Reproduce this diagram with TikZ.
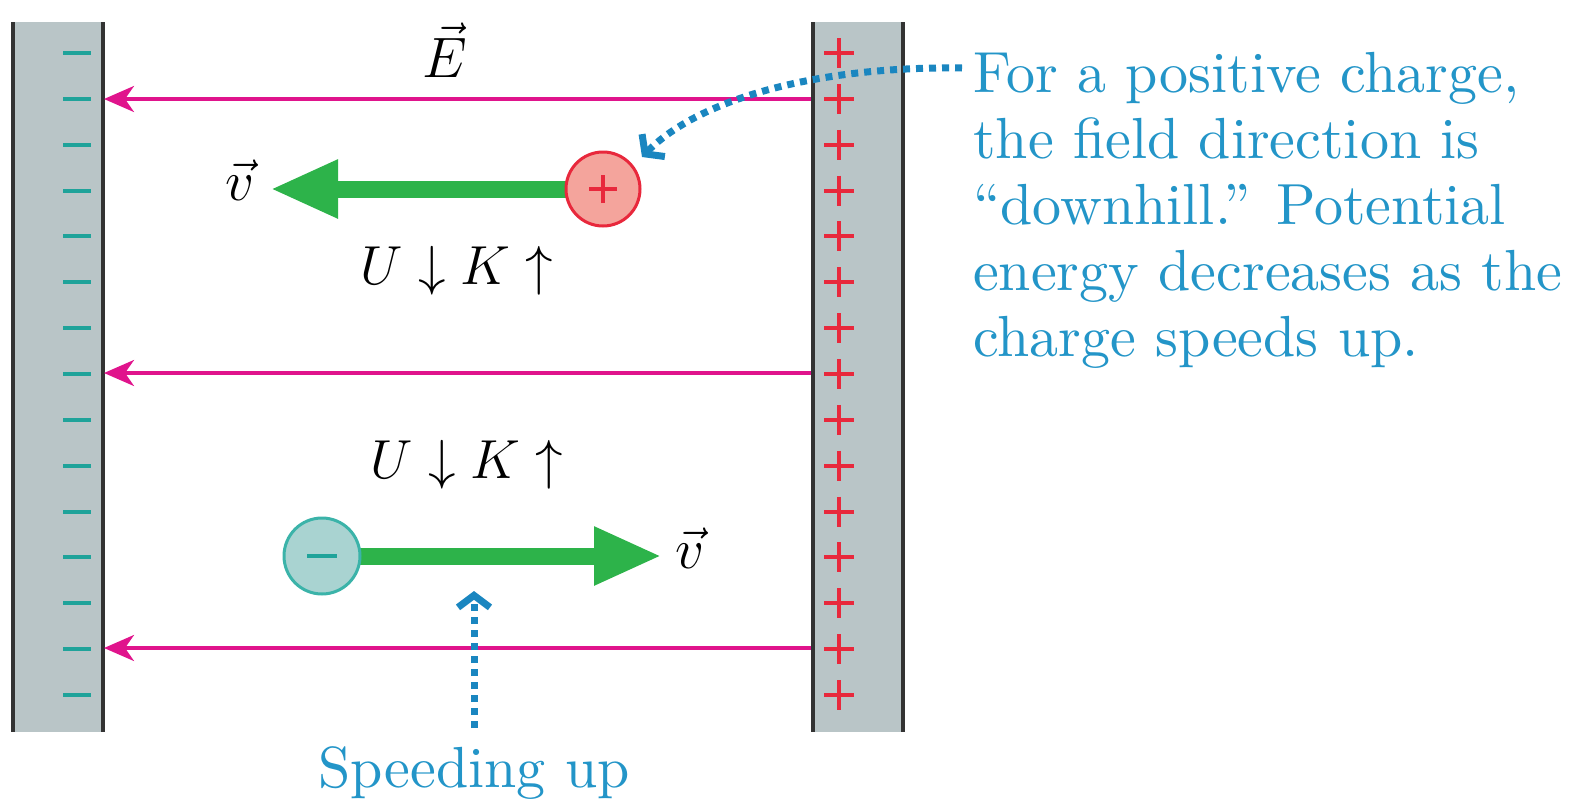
\RequirePackage{fix-cm}
\documentclass[tikz,border=0pt]{standalone}
\usepackage{fontspec}
\setmainfont{lmroman10-regular.otf}[ItalicFont=lmroman10-italic.otf,BoldFont=lmroman10-bold.otf,BoldItalicFont=lmroman10-bolditalic.otf]
\usetikzlibrary{arrows.meta}
\definecolor{plategray}{HTML}{B9C5C7}
\definecolor{plateedge}{HTML}{333333}
\definecolor{minusteal}{HTML}{1FA39A}
\definecolor{plusred}{HTML}{E8283C}
\definecolor{fieldmag}{HTML}{E0148C}
\definecolor{vgreen}{HTML}{2DB34A}
\definecolor{posfill}{HTML}{F4A49C}
\definecolor{negfill}{HTML}{A9D3D1}
\definecolor{negedge}{HTML}{3BB3A9}
\definecolor{dotblue}{HTML}{1A86C0}
\definecolor{textblue}{HTML}{2395C8}
\begin{document}
\begin{tikzpicture}[x=1pt,y=-1pt,
  every node/.style={font=\fontsize{57}{66}\selectfont, inner sep=0pt},
  mathlabel/.style={font=\fontsize{55}{66}\selectfont},
  edge/.style={draw=plateedge, line width=4pt},
  minussign/.style={draw=minusteal, line width=4pt},
  plussign/.style={draw=plusred, line width=4pt},
  fieldline/.style={draw=fieldmag, line width=3.5pt, -{Stealth[length=30pt,width=26pt,inset=9pt]}},
  velarrow/.style={draw=vgreen, line width=17pt, -{Triangle[length=68pt,width=54pt]}},
  poscharge/.style={circle, minimum size=74pt, fill=posfill, draw=plusred, line width=3pt},
  negcharge/.style={circle, minimum size=76pt, fill=negfill, draw=negedge, line width=3pt},
  bluedots/.style={draw=dotblue, line width=7pt, dash pattern=on 7pt off 6pt, -{Straight Barb[length=12pt,width=32pt]}},
  bluetext/.style={text=textblue, align=left, font=\fontsize{58}{66}\selectfont}
]
\useasboundingbox (0,0) rectangle (1574,806);
% plates
\fill[plategray] (13,22) rectangle (103,732);
\fill[plategray] (813,22) rectangle (903,732);
\draw[edge] (13,22) -- (13,732) (103,22) -- (103,732);
\draw[edge] (813,22) -- (813,732) (903,22) -- (903,732);
% charges on plates
\foreach \k in {0,...,14} {
  \pgfmathsetmacro\yy{53+45.86*\k}
  \draw[minussign] (63,\yy) -- (91,\yy);
  \draw[plussign] (824,\yy) -- (854,\yy) (839,\yy-15) -- (839,\yy+15);
}
% field lines
\coordinate (r1) at (811,99);  \coordinate (l1) at (104,99);
\coordinate (r2) at (811,373); \coordinate (l2) at (104,373);
\coordinate (r3) at (811,648); \coordinate (l3) at (104,648);
\draw[fieldline] (r1) -- (l1);
\draw[fieldline] (r2) -- (l2);
\draw[fieldline] (r3) -- (l3);
\node (E) at (445,50) {$\vec{E}$};
% positive charge
\coordinate (pcc) at (603,189);
\coordinate (vtip1) at (270,189);
\draw[velarrow] (pcc) -- (vtip1);
\node[poscharge] (pc) at (pcc) {};
\draw[plussign] ([xshift=-14pt]pc.center) -- ([xshift=14pt]pc.center)
                ([yshift=-14pt]pc.center) -- ([yshift=14pt]pc.center);
\node (v1) at (240,180) {$\vec{v}$};
\node[mathlabel] (uk1) at (457,271) {$U\downarrow K\uparrow$};
\node[mathlabel] (uk2) at (467,465) {$U\downarrow K\uparrow$};
% negative charge
\coordinate (ncc) at (322,556);
\coordinate (vtip2) at (662,556);
\draw[velarrow] (ncc) -- (vtip2);
\node[negcharge] (nc) at (ncc) {};
\draw[minussign] ([xshift=-15pt]nc.center) -- ([xshift=15pt]nc.center);
\node (v2) at (690,548) {$\vec{v}$};
% annotations
\node[bluetext, anchor=base] (spd) at (474,787) {Speeding up};
\coordinate (spdtail) at (474,728);
\coordinate (spdtip) at (474,591);
\draw[bluedots] (spdtail) -- (spdtip);
\node[bluetext, anchor=north west] (note) at (973,52) {For a positive charge,\\the field direction is\\“downhill.” Potential\\energy decreases as the\\charge speeds up.};
\coordinate (notetail) at (962,68);
\coordinate (notetip) at (642,157);
\draw[bluedots] (notetail) .. controls (820,66) and (700,98) .. (notetip);
\end{tikzpicture}
\end{document}
